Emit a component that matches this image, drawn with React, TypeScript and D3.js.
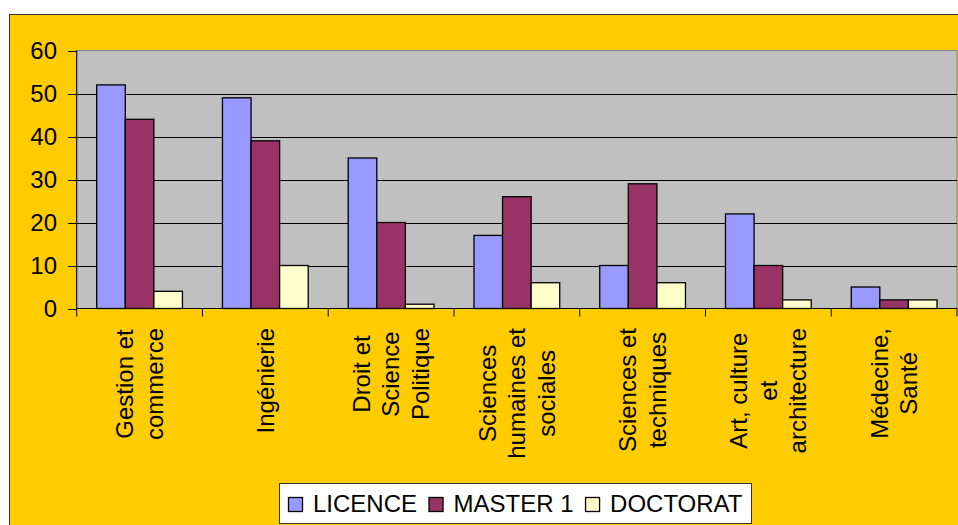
import * as d3 from "d3";

const categories = [
  ["Gestion et", "commerce"],
  ["Ingénierie"],
  ["Droit et", "Science", "Politique"],
  ["Sciences", "humaines et", "sociales"],
  ["Sciences et", "techniques"],
  ["Art, culture", "et", "architecture"],
  ["Médecine,", "Santé"],
];
const series = ["LICENCE", "MASTER 1", "DOCTORAT"];
const licence = [52, 49, 35, 17, 10, 22, 5];
const master1 = [44, 39, 20, 26, 29, 10, 2];
const doctorat = [4, 10, 1, 6, 6, 2, 2];
const yTicks = [0, 10, 20, 30, 40, 50, 60];
const colors = ["#9999FF", "#993366", "#FFFFCC"];

const FONT = "'Liberation Sans', Arial, sans-serif";
const FS = 24;

let ctx: CanvasRenderingContext2D | null = null;
function textWidth(s: string, size = FS) {
  if (!ctx) ctx = document.createElement("canvas").getContext("2d");
  if (!ctx) return s.length * size * 0.5;
  ctx.font = `${size}px ${FONT}`;
  return ctx.measureText(s).width;
}

export default function App() {
  const width = 958;
  const height = 525;
  const plotLeft = 76.7;
  const plotRight = 957;
  const plotTop = 50.5;
  const plotBottom = 308.5;

  const values = [licence, master1, doctorat];
  const idx = d3.range(categories.length);

  const x0 = d3.scaleBand<number>().domain(idx).range([plotLeft, plotRight]).padding(0);
  const x1 = d3
    .scaleBand<number>()
    .domain([0, 1, 2])
    .range([0, x0.bandwidth()])
    .paddingInner(0)
    .paddingOuter(0.7);
  const y = d3.scaleLinear().domain([0, 60]).range([plotBottom, plotTop]);

  const lineGap = 29.6;
  const labelTop = 328;

  // legend layout
  const legendLeft = 279.5;
  let cursor = 288.5;
  const legendItems = series.map((s, i) => {
    const item = { s, i, ix: cursor, tx: cursor + 24.5 };
    cursor = item.tx + textWidth(s) + 12;
    return item;
  });

  return (
    <div style={{ position: "absolute", left: 0, top: 0 }}>
      <svg width={width} height={height} style={{ display: "block", background: "#fff" }}>
        <rect x={9.5} y={14.5} width={width + 10} height={height} fill="#FFCC00" stroke="#333" strokeWidth={1} />
        <rect x={plotLeft} y={plotTop} width={plotRight - plotLeft} height={plotBottom - plotTop} fill="#C0C0C0" stroke="#808080" strokeWidth={1} />

        {yTicks
          .filter((t) => t > 0 && t < 60)
          .map((t) => (
            <line key={t} x1={plotLeft} x2={plotRight} y1={Math.round(y(t)) + 0.5} y2={Math.round(y(t)) + 0.5} stroke="#000" strokeWidth={1} />
          ))}

        {idx.map((c) =>
          values.map((vals, s) => (
            <rect
              key={`${c}-${s}`}
              x={(x0(c) ?? 0) + (x1(s) ?? 0)}
              y={y(vals[c])}
              width={x1.bandwidth()}
              height={plotBottom - y(vals[c])}
              fill={colors[s]}
              stroke="#000"
              strokeWidth={1.3}
            />
          ))
        )}

        {/* axes */}
        <line x1={plotLeft} x2={plotLeft} y1={plotTop} y2={plotBottom} stroke="#000" />
        <line x1={plotLeft} x2={plotRight} y1={plotBottom} y2={plotBottom} stroke="#000" />
        {yTicks.map((t) => (
          <g key={t}>
            <line x1={plotLeft - 8.5} x2={plotLeft} y1={Math.round(y(t)) + 0.5} y2={Math.round(y(t)) + 0.5} stroke="#000" />
            <text x={57} y={y(t)} dy="0.37em" textAnchor="end" fontFamily={FONT} fontSize={FS} fill="#000">
              {t}
            </text>
          </g>
        ))}
        {[...idx, categories.length].map((c) => {
          const xx = c < categories.length ? (x0(c) ?? 0) : plotRight;
          return <line key={c} x1={xx} x2={xx} y1={plotBottom} y2={plotBottom + 8} stroke="#000" />;
        })}

        {categories.map((lines, c) => {
          const cx = (x0(c) ?? 0) + x0.bandwidth() / 2;
          const maxW = d3.max(lines, (l) => textWidth(l)) ?? 0;
          const cy = labelTop + maxW / 2;
          return lines.map((l, i) => {
            const lx = cx + (i - (lines.length - 1) / 2) * lineGap;
            return (
              <text
                key={`${c}-${i}`}
                transform={`translate(${lx},${cy}) rotate(-90)`}
                dy="0.35em"
                textAnchor="middle"
                fontFamily={FONT}
                fontSize={FS}
                fill="#000"
              >
                {l}
              </text>
            );
          });
        })}

        {/* legend */}
        <rect x={legendLeft} y={483.5} width={472} height={40} fill="#fff" stroke="#333" strokeWidth={1} />
        {legendItems.map((it) => (
          <g key={it.s}>
            <rect x={it.ix} y={497.5} width={14} height={14} fill={colors[it.i]} stroke="#000" strokeWidth={1.3} />
            <text x={it.tx} y={512} fontFamily={FONT} fontSize={FS} fill="#000">
              {it.s}
            </text>
          </g>
        ))}
      </svg>
    </div>
  );
}
